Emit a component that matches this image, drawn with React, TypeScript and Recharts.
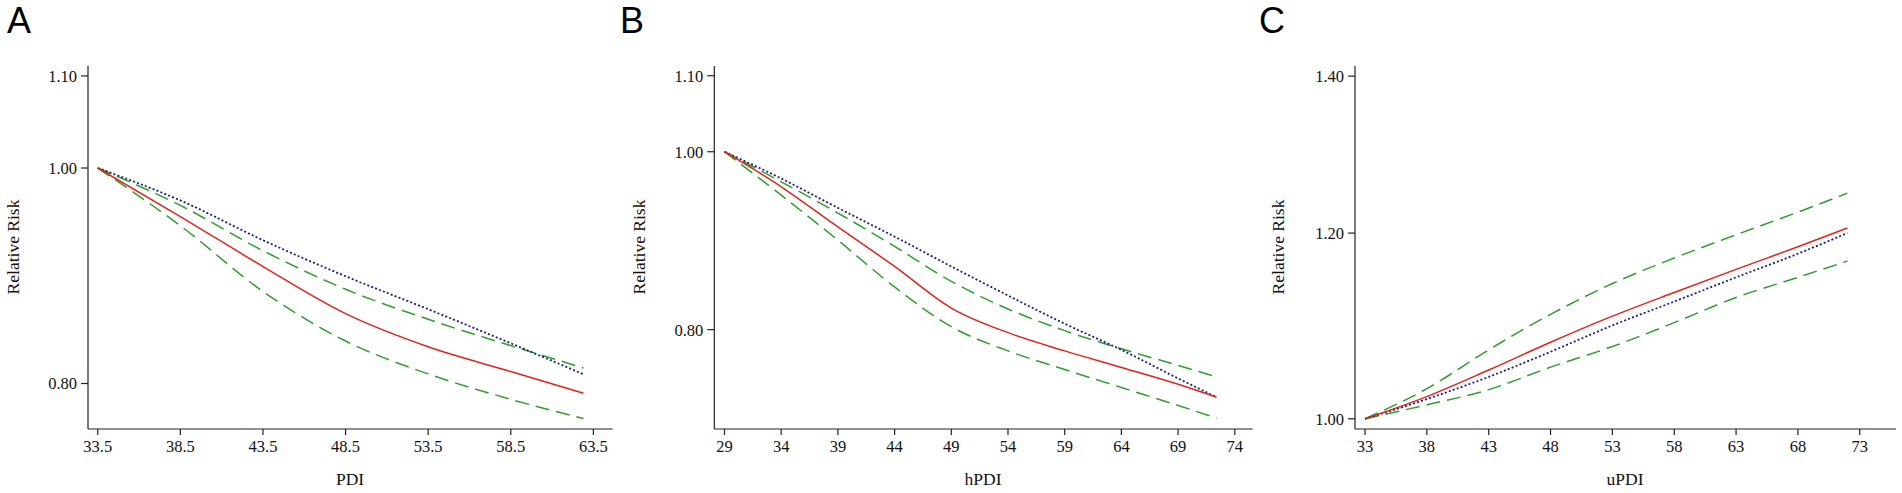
import React from "react";
import { LineChart, Line, XAxis, YAxis } from "recharts";

// Panel A: PDI
const pdiX = [33.5, 38.5, 43.5, 48.5, 53.5, 58.5, 62.9];
const pdiRR = [1, 0.951, 0.903, 0.86, 0.831, 0.81, 0.792];
const pdiUpper = [1, 0.962, 0.918, 0.882, 0.855, 0.832, 0.813];
const pdiLower = [1, 0.942, 0.88, 0.836, 0.808, 0.787, 0.7715];
const pdiLinear = [1, 0.967, 0.928, 0.894, 0.864, 0.834, 0.8077];
const pdiTicks = [33.5, 38.5, 43.5, 48.5, 53.5, 58.5, 63.5];

// Panel B: hPDI
const hpdiX = [29, 34, 39, 44, 49, 54, 59, 64, 69, 72.4];
const hpdiRR = [1, 0.957, 0.91, 0.866, 0.822, 0.797, 0.779, 0.763, 0.747, 0.735];
const hpdiUpper = [1, 0.963, 0.926, 0.888, 0.85, 0.821, 0.799, 0.781, 0.765, 0.754];
const hpdiLower = [1, 0.947, 0.895, 0.844, 0.803, 0.779, 0.761, 0.744, 0.7275, 0.716];
const hpdiLinear = [1, 0.967, 0.932, 0.899, 0.866, 0.835, 0.806, 0.78, 0.7526, 0.735];
const hpdiTicks = [29, 34, 39, 44, 49, 54, 59, 64, 69, 74];

// Panel C: uPDI
const updiX = [33, 38, 43, 48, 53, 58, 63, 68, 72];
const updiRR = [1, 1.022, 1.049, 1.078, 1.106, 1.132, 1.158, 1.184, 1.206];
const updiUpper = [1, 1.03, 1.07, 1.108, 1.142, 1.171, 1.198, 1.225, 1.248];
const updiLower = [1, 1.0138, 1.029, 1.052, 1.0735, 1.099, 1.1265, 1.149, 1.1675];
const updiLinear = [1, 1.0195, 1.042, 1.068, 1.096, 1.122, 1.149, 1.176, 1.2];
const updiTicks = [33, 38, 43, 48, 53, 58, 63, 68, 73];

const RED = "#e2231c";
const GREEN = "#2d9f2d";
const BLUE = "#1c1c88";
const SERIF = "'Liberation Serif', 'Times New Roman', serif";

function build(x: number[], rr: number[], up: number[], lo: number[], lin: number[]) {
  return x.map((v, i) => ({ x: v, rr: rr[i], up: up[i], lo: lo[i], lin: lin[i] }));
}

const tickStyle = { fill: "#111", fontSize: 16.5, fontFamily: SERIF };

function Panel(props: {
  left: number;
  width: number;
  marginLeft: number;
  marginRight: number;
  data: any[];
  xDomain: [number, number];
  xTicks: number[];
  xFmt: (v: number) => string;
  yDomain: [number, number];
  yTicks: number[];
}) {
  const { left, width, marginLeft, marginRight, data, xDomain, xTicks, xFmt, yDomain, yTicks } = props;
  return (
    <div style={{ position: "absolute", left, top: 0 }}>
      <LineChart
        width={width}
        height={493}
        data={data}
        margin={{ top: 66, right: marginRight, bottom: 24, left: marginLeft }}
      >
        <XAxis
          dataKey="x"
          type="number"
          domain={xDomain}
          ticks={xTicks}
          allowDataOverflow
          tickFormatter={xFmt}
          tick={tickStyle}
          tickSize={6}
          tickMargin={5}
          height={40}
          stroke="#222"
          strokeWidth={1.2}
        />
        <YAxis
          type="number"
          scale="log"
          domain={yDomain}
          ticks={yTicks}
          allowDataOverflow
          tickFormatter={(v: number) => v.toFixed(2)}
          tick={tickStyle}
          tickSize={7}
          tickMargin={4}
          width={60}
          stroke="#222"
          strokeWidth={1.2}
        />
        <Line type="monotone" dataKey="up" stroke={GREEN} strokeWidth={1.5} strokeDasharray="14 7" dot={false} isAnimationActive={false} />
        <Line type="monotone" dataKey="lo" stroke={GREEN} strokeWidth={1.5} strokeDasharray="14 7" dot={false} isAnimationActive={false} />
        <Line type="monotone" dataKey="lin" stroke={BLUE} strokeWidth={1.8} strokeDasharray="2 2.2" dot={false} isAnimationActive={false} />
        <Line type="monotone" dataKey="rr" stroke={RED} strokeWidth={1.5} dot={false} isAnimationActive={false} />
      </LineChart>
    </div>
  );
}

function Text(props: { x: number; y: number; size: number; rotate?: boolean; children: string }) {
  return (
    <div
      style={{
        position: "absolute",
        left: props.x,
        top: props.y,
        transform: `translate(-50%, -50%)${props.rotate ? " rotate(-90deg)" : ""}`,
        fontFamily: SERIF,
        fontSize: props.size,
        lineHeight: 1,
        whiteSpace: "nowrap",
        color: "#111",
      }}
    >
      {props.children}
    </div>
  );
}

function Letter(props: { x: number; children: string }) {
  return (
    <div
      style={{
        position: "absolute",
        left: props.x,
        top: 2.5,
        fontFamily: "'Liberation Sans', Arial, sans-serif",
        fontSize: 36,
        lineHeight: "36px",
        color: "#000",
      }}
    >
      {props.children}
    </div>
  );
}

export default function App() {
  return (
    <div style={{ position: "fixed", left: 0, top: 0, width: 1902, height: 493, background: "#fff", overflow: "hidden" }}>
      <Panel
        left={0}
        width={620}
        marginLeft={28}
        marginRight={7.3}
        data={build(pdiX, pdiRR, pdiUpper, pdiLower, pdiLinear)}
        xDomain={[32.91, 64.67]}
        xTicks={pdiTicks}
        xFmt={(v) => v.toFixed(1)}
        yDomain={[0.7632, 1.1114]}
        yTicks={[0.8, 1.0, 1.1]}
      />
      <Panel
        left={640}
        width={620}
        marginLeft={14.3}
        marginRight={7.3}
        data={build(hpdiX, hpdiRR, hpdiUpper, hpdiLower, hpdiLinear)}
        xDomain={[28.1, 75.58]}
        xTicks={hpdiTicks}
        xFmt={(v) => String(v)}
        yDomain={[0.7063, 1.1135]}
        yTicks={[0.8, 1.0, 1.1]}
      />
      <Panel
        left={1280}
        width={622}
        marginLeft={15}
        marginRight={6}
        data={build(updiX, updiRR, updiUpper, updiLower, updiLinear)}
        xDomain={[32.19, 75.93]}
        xTicks={updiTicks}
        xFmt={(v) => String(v)}
        yDomain={[0.99, 1.414]}
        yTicks={[1.0, 1.2, 1.4]}
      />
      <Letter x={7}>A</Letter>
      <Letter x={620}>B</Letter>
      <Letter x={1259}>C</Letter>
      <Text x={13.5} y={247} size={17.5} rotate>Relative Risk</Text>
      <Text x={639.5} y={247} size={17.5} rotate>Relative Risk</Text>
      <Text x={1279} y={247} size={17.5} rotate>Relative Risk</Text>
      <Text x={350} y={480} size={17.5}>PDI</Text>
      <Text x={983} y={480} size={17.5}>hPDI</Text>
      <Text x={1625} y={480} size={17.5}>uPDI</Text>
    </div>
  );
}
